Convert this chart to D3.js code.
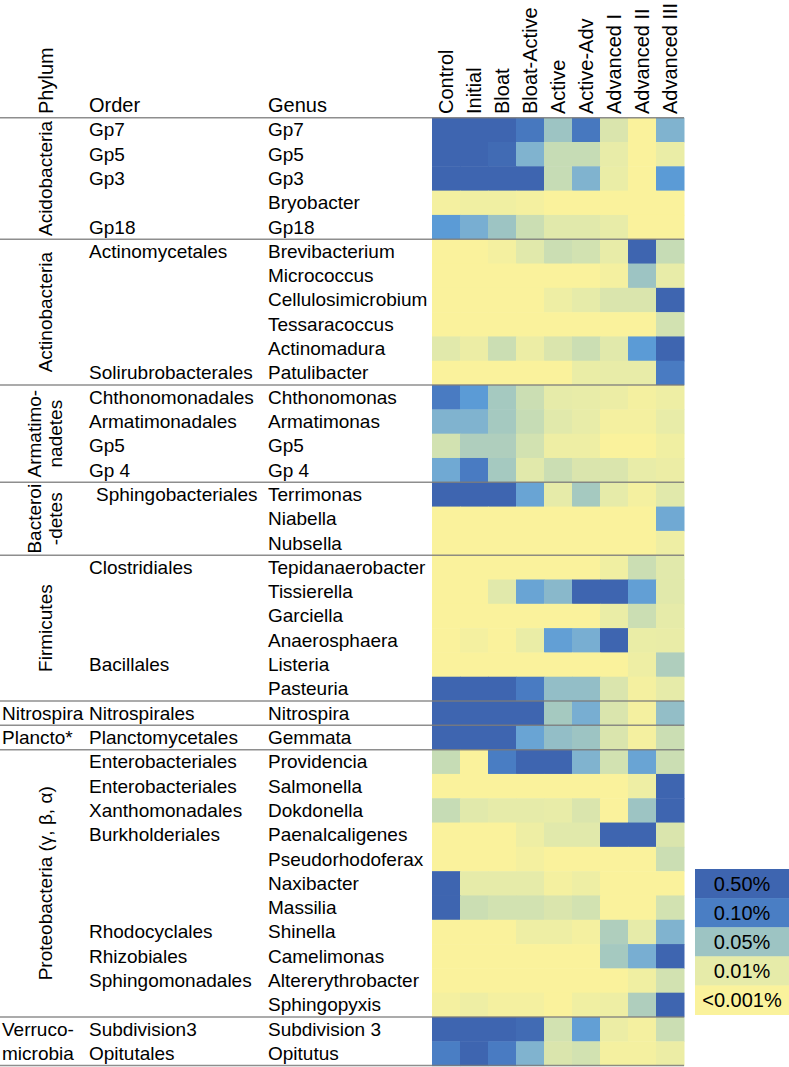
<!DOCTYPE html>
<html>
<head>
<meta charset="utf-8">
<script src="https://cdn.jsdelivr.net/npm/d3@7"></script>
<style>
  html, body { margin: 0; padding: 0; background: #fff; }
  svg { display: block; font-family: Arial, "Liberation Sans", Helvetica, sans-serif; }
</style>
</head>
<body>
<svg id="chart" width="789" height="1067"></svg>
<script>
// ---------- DATA ----------
const columns = ["Control","Initial","Bloat","Bloat-Active","Active","Active-Adv","Advanced I","Advanced II","Advanced III"];

const phylumNames = ["Acidobacteria","Actinobacteria","Armatimo-|nadetes","Bacteroi|-detes","Firmicutes","Nitrospira","Plancto*","Proteobacteria (γ, β, α)","Verruco-|microbia"];
const phylumSizes = [5, 6, 4, 3, 6, 1, 1, 11, 2];

const orders = [
  "Gp7","Gp5","Gp3","","Gp18",
  "Actinomycetales","","","","","Solirubrobacterales",
  "Chthonomonadales","Armatimonadales","Gp5","Gp 4",
  " Sphingobacteriales","","",
  "Clostridiales","","","","Bacillales","",
  "Nitrospirales",
  "Planctomycetales",
  "Enterobacteriales","Enterobacteriales","Xanthomonadales","Burkholderiales","","","","Rhodocyclales","Rhizobiales","Sphingomonadales","",
  "Subdivision3","Opitutales"
];

const genera = [
  "Gp7","Gp5","Gp3","Bryobacter","Gp18",
  "Brevibacterium","Micrococcus","Cellulosimicrobium","Tessaracoccus","Actinomadura","Patulibacter",
  "Chthonomonas","Armatimonas","Gp5","Gp 4",
  "Terrimonas","Niabella","Nubsella",
  "Tepidanaerobacter","Tissierella","Garciella","Anaerosphaera","Listeria","Pasteuria",
  "Nitrospira",
  "Gemmata",
  "Providencia","Salmonella","Dokdonella","Paenalcaligenes","Pseudorhodoferax","Naxibacter","Massilia","Shinella","Camelimonas","Altererythrobacter","Sphingopyxis",
  "Subdivision 3","Opitutus"
];

// relative abundance (%) per genus (rows) and stage (columns)
const abundance = [
  [0.5,0.5,0.5,0.15,0.05,0.15,0.015,0.001,0.065],
  [0.5,0.5,0.35,0.065,0.03,0.03,0.008,0.001,0.006],
  [0.5,0.5,0.5,0.5,0.03,0.065,0.006,0.001,0.09],
  [0.002,0.003,0.003,0.002,0.001,0.001,0.001,0.001,0.001],
  [0.09,0.07,0.05,0.025,0.012,0.012,0.008,0.001,0.001],
  [0.001,0.001,0.002,0.012,0.025,0.02,0.008,0.5,0.03],
  [0.001,0.001,0.001,0.001,0.001,0.001,0.002,0.05,0.008],
  [0.001,0.001,0.001,0.001,0.004,0.01,0.015,0.015,0.5],
  [0.001,0.001,0.001,0.001,0.001,0.001,0.001,0.001,0.02],
  [0.012,0.005,0.025,0.005,0.015,0.025,0.012,0.09,0.5],
  [0.001,0.001,0.001,0.001,0.001,0.006,0.008,0.008,0.12],
  [0.12,0.09,0.045,0.025,0.01,0.008,0.005,0.002,0.004],
  [0.065,0.065,0.045,0.03,0.012,0.008,0.002,0.002,0.008],
  [0.02,0.04,0.04,0.02,0.004,0.004,0.001,0.001,0.003],
  [0.075,0.12,0.045,0.012,0.025,0.015,0.015,0.008,0.005],
  [0.5,0.5,0.5,0.08,0.01,0.045,0.01,0.002,0.012],
  [0.001,0.001,0.001,0.001,0.001,0.001,0.001,0.001,0.075],
  [0.001,0.001,0.001,0.001,0.001,0.001,0.001,0.001,0.004],
  [0.001,0.001,0.001,0.001,0.001,0.001,0.003,0.025,0.012],
  [0.001,0.001,0.012,0.08,0.06,0.5,0.5,0.085,0.012],
  [0.001,0.001,0.001,0.001,0.001,0.001,0.006,0.025,0.01],
  [0.001,0.002,0.001,0.006,0.085,0.07,0.5,0.006,0.007],
  [0.001,0.001,0.001,0.001,0.001,0.001,0.001,0.004,0.04],
  [0.5,0.5,0.5,0.12,0.055,0.055,0.015,0.002,0.01],
  [0.5,0.5,0.5,0.5,0.045,0.07,0.015,0.002,0.055],
  [0.5,0.5,0.5,0.08,0.055,0.05,0.015,0.002,0.025],
  [0.03,0.001,0.11,0.5,0.5,0.065,0.02,0.08,0.025],
  [0.001,0.001,0.001,0.001,0.001,0.001,0.001,0.004,0.5],
  [0.03,0.012,0.01,0.01,0.008,0.015,0.001,0.05,0.5],
  [0.001,0.001,0.001,0.004,0.012,0.012,0.5,0.5,0.015],
  [0.001,0.001,0.001,0.002,0.001,0.001,0.001,0.001,0.025],
  [0.5,0.01,0.01,0.01,0.002,0.004,0.001,0.001,0.001],
  [0.5,0.025,0.02,0.02,0.015,0.02,0.001,0.001,0.02],
  [0.001,0.001,0.001,0.004,0.004,0.002,0.04,0.01,0.065],
  [0.001,0.001,0.001,0.001,0.001,0.001,0.045,0.07,0.5],
  [0.001,0.001,0.001,0.001,0.001,0.001,0.001,0.003,0.02],
  [0.002,0.004,0.002,0.002,0.001,0.003,0.004,0.04,0.5],
  [0.5,0.5,0.5,0.35,0.02,0.085,0.005,0.002,0.025],
  [0.1,0.5,0.12,0.065,0.015,0.02,0.002,0.002,0.005]
];

const legendValues = [0.5, 0.1, 0.05, 0.01, 0.001];
const legendLabels = ["0.50%","0.10%","0.05%","0.01%","<0.001%"];

// ---------- SCALES ----------
const svg = d3.select("#chart");
const FONT = 19;

const x = d3.scaleBand().domain(columns).range([432, 684]);
const y = d3.scaleBand().domain(d3.range(genera.length)).range([117.7, 1065.6]);

const color = d3.scaleLog()
  .domain([0.001, 0.01, 0.03, 0.05, 0.07, 0.09, 0.1, 0.5])
  .range(["#faf29c","#e6eba9","#c6dcb5","#9dc4c3","#78aed2","#5b9bd6","#4a7ec4","#3e65b0"])
  .clamp(true);

// ---------- CELLS ----------
const cells = [];
abundance.forEach((row, i) => row.forEach((v, j) => cells.push({i, col: columns[j], v})));
svg.append("g").selectAll("rect").data(cells).join("rect")
  .attr("x", d => x(d.col))
  .attr("y", d => y(d.i))
  .attr("width", x.bandwidth() + 0.5)
  .attr("height", y.bandwidth() + 0.5)
  .attr("fill", d => color(d.v));

// ---------- COLUMN HEADERS ----------
svg.append("g").selectAll("text").data(columns).join("text")
  .attr("transform", d => `translate(${x(d) + x.bandwidth()/2 + 7},114) rotate(-90)`)
  .attr("font-size", 20)
  .text(d => d);

// row-header titles
svg.append("text").attr("transform", "translate(53,114) rotate(-90)").attr("font-size", 20).text("Phylum");
svg.append("text").attr("x", 89).attr("y", 112).attr("font-size", 20).text("Order");
svg.append("text").attr("x", 268).attr("y", 112).attr("font-size", 20).text("Genus");

// ---------- ROW LABELS ----------
const rowIdx = d3.range(genera.length);
svg.append("g").selectAll("text").data(rowIdx).join("text")
  .attr("x", 89).attr("y", i => y(i) + y.bandwidth()/2 + 6.5)
  .attr("font-size", FONT).attr("xml:space", "preserve")
  .style("white-space", "pre")
  .text(i => orders[i].startsWith(" ") ? "" : orders[i]);
// indented order label(s)
svg.append("g").selectAll("text").data(rowIdx.filter(i => orders[i].startsWith(" "))).join("text")
  .attr("x", 96).attr("y", i => y(i) + y.bandwidth()/2 + 6.5)
  .attr("font-size", FONT)
  .text(i => orders[i].trim());

svg.append("g").selectAll("text").data(rowIdx).join("text")
  .attr("x", 268).attr("y", i => y(i) + y.bandwidth()/2 + 6.5)
  .attr("font-size", FONT)
  .text(i => genera[i]);

// ---------- PHYLUM GROUPS ----------
let start = 0;
const groups = phylumNames.map((name, k) => {
  const g = {name, start, n: phylumSizes[k]};
  start += phylumSizes[k];
  return g;
});

const gLab = svg.append("g").attr("font-size", FONT);
groups.forEach(g => {
  const top = y(g.start);
  const bottom = y(g.start + g.n - 1) + y.bandwidth();
  const cy = (top + bottom) / 2;
  const lines = g.name.split("|");
  if (g.n >= 3) {
    const xs = lines.length === 1 ? [45] : [34, 55];
    lines.forEach((t, li) => {
      gLab.append("text")
        .attr("transform", `translate(${xs[li] + 7},${cy}) rotate(-90)`)
        .attr("text-anchor", "middle")
        .text(t);
    });
  } else {
    lines.forEach((t, li) => {
      gLab.append("text")
        .attr("x", 2)
        .attr("y", y(g.start + li) + y.bandwidth()/2 + 6.5)
        .text(t);
    });
  }
});

// ---------- SEPARATOR LINES ----------
const bounds = [y(0)].concat(groups.map(g => y(g.start + g.n - 1) + y.bandwidth()));
svg.append("g").selectAll("line").data(bounds).join("line")
  .attr("x1", 0).attr("x2", 684)
  .attr("y1", d => d).attr("y2", d => d)
  .attr("stroke", "#7a7a7a").attr("stroke-opacity", 0.85).attr("stroke-width", 1.5);

// ---------- LEGEND ----------
const ly = d3.scaleBand().domain(legendValues).range([869, 1014.5]);
const leg = svg.append("g");
leg.selectAll("rect").data(legendValues).join("rect")
  .attr("x", 695).attr("y", d => ly(d))
  .attr("width", 100).attr("height", ly.bandwidth() + 0.5)
  .attr("fill", d => color(d));
leg.selectAll("text").data(legendValues).join("text")
  .attr("x", 742).attr("y", d => ly(d) + ly.bandwidth()/2 + 7.5)
  .attr("text-anchor", "middle").attr("font-size", 20)
  .text((d, i) => legendLabels[i]);
</script>
</body>
</html>
